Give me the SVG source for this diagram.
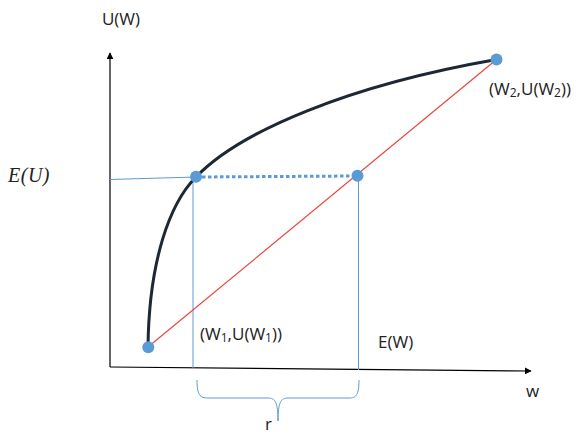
<svg xmlns="http://www.w3.org/2000/svg" width="578" height="435" viewBox="0 0 578 435">
<style>
.lbl{font-family:"Open Sans","Liberation Sans",sans-serif;font-size:17px;fill:#222}
.sub{font-size:12px}
.axis{stroke:#000;stroke-width:1.2;fill:none}
.guide{stroke:#5b9bd5;stroke-width:1;fill:none}
.pt{fill:#5b9bd5}
</style>
<defs>
<marker id="arr" viewBox="0 0 10 10" refX="9" refY="5" markerWidth="7" markerHeight="7" markerUnits="userSpaceOnUse" orient="auto">
<path d="M0,0 L10,5 L0,10 z" fill="#000"/>
</marker>
</defs>
<rect width="578" height="435" fill="#fff"/>
<g id="connectors">
<line class="axis" x1="110" y1="367" x2="110" y2="53" marker-end="url(#arr)"/>
<line class="axis" x1="110" y1="367" x2="531" y2="371" marker-end="url(#arr)"/>
<line class="guide" x1="110" y1="179.5" x2="196" y2="177"/>
<line class="guide" x1="193" y1="177" x2="193" y2="368"/>
<line class="guide" x1="358.5" y1="176" x2="358.5" y2="370"/>
<line x1="148" y1="347" x2="496.5" y2="59.5" stroke="#e8463c" stroke-width="1.2"/>
<line x1="196" y1="177" x2="357" y2="176" stroke="#5b9bd5" stroke-width="3" stroke-dasharray="3.5 2.5"/>
<path d="M148,347 C149,260 170,203 196,177 C240,131 350,85 496.5,59.5" fill="none" stroke="#1e2835" stroke-width="3"/>
<path class="guide" d="M197,380 C197,395 200,398 208,398 L268,398 C275,398 278,402 278,421 C278,402 281,398 288,398 L349,398 C356,398 359,395 359,380"/>
</g>
<g id="p0"><circle class="pt" cx="148.3" cy="347.3" r="6"/></g>
<g id="p1"><circle class="pt" cx="196" cy="176.8" r="6"/><text class="lbl" x="200" y="340">(W<tspan class="sub" dy="2">1</tspan><tspan dy="-2">,U(W</tspan><tspan class="sub" dy="2">1</tspan><tspan dy="-2">))</tspan></text></g>
<g id="p2"><circle class="pt" cx="357.5" cy="175.8" r="6"/></g>
<g id="p3"><circle class="pt" cx="496.5" cy="59.5" r="6"/><text class="lbl" x="489" y="95">(W<tspan class="sub" dy="2">2</tspan><tspan dy="-2">,U(W</tspan><tspan class="sub" dy="2">2</tspan><tspan dy="-2">))</tspan></text></g>
<g id="labels">
<text class="lbl" x="121" y="25" text-anchor="middle">U(W)</text>
<text x="8" y="181.5" font-family="'Liberation Serif',serif" font-style="italic" font-size="20" letter-spacing="0.5" fill="#222">E(U)</text>
<text class="lbl" x="378" y="348">E(W)</text>
<text class="lbl" x="526" y="397">w</text>
<text class="lbl" x="265" y="430">r</text>
</g>
</svg>
